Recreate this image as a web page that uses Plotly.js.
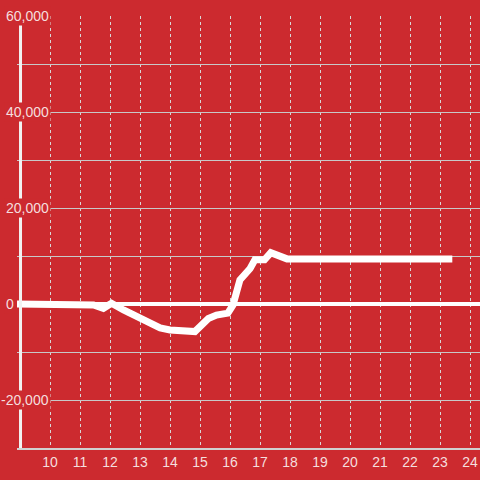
<!DOCTYPE html>
<html>
<head>
<meta charset="utf-8">
<script src="https://cdn.plot.ly/plotly-3.0.1.min.js"></script>
<style>html,body{margin:0;padding:0;background:#cc2a2f;}#chart{width:480px;height:480px;}</style>
</head>
<body>
<div id="chart"></div>
<script>
const xValues = [8.9, 11.3, 11.45, 11.78, 12.05, 12.45, 13.0, 13.67, 14.0, 14.67, 14.83, 15.28, 15.55, 15.93, 16.1, 16.33, 16.67, 16.83, 17.15, 17.36, 17.72, 17.9, 23.41];
const yValues = [0, 0, -200, -900, 150, -1250, -3000, -5000, -5400, -5550, -5750, -3000, -2300, -1900, -200, 5000, 7400, 9200, 9200, 10700, 9700, 9400, 9400];
const yTickValues = [60000, 40000, 20000, 0, -20000];
const xTickValues = [10, 11, 12, 13, 14, 15, 16, 17, 18, 19, 20, 21, 22, 23, 24];

const RED = '#cc2a2f';
const LABEL = '#f5dede';
const FONT = 'Liberation Sans, Arial, sans-serif';

const annotations = yTickValues.map(v => ({
  xref: 'paper', yref: 'y', x: -0.0287, y: v,
  xanchor: 'left', yanchor: 'middle',
  xshift: v < 0 ? -4.7 : 0,
  text: v.toLocaleString('en-US'),
  showarrow: false, bgcolor: RED, borderpad: 1,
  font: {family: FONT, size: 14, color: LABEL}
}));

const layout = {
  width: 480, height: 480,
  margin: {l: 17, r: 0, t: 16, b: 32},
  paper_bgcolor: RED, plot_bgcolor: RED,
  showlegend: false,
  font: {family: FONT, size: 14, color: LABEL},
  xaxis: {
    range: [8.9, 24.333], tickvals: xTickValues,
    showgrid: true, gridcolor: '#d8d8d8', griddash: 'dot', gridwidth: 1,
    zeroline: false, showline: true, linecolor: '#d0d0d0', linewidth: 2,
    ticks: '', tickfont: {family: FONT, size: 14, color: LABEL}
  },
  yaxis: {
    range: [-30000, 60000], dtick: 10000, showticklabels: false,
    showgrid: true, gridcolor: '#c8c8c8', gridwidth: 1,
    zeroline: true, zerolinecolor: '#ffffff', zerolinewidth: 4,
    showline: false, ticks: ''
  },
  shapes: [{
    type: 'line', xref: 'paper', yref: 'paper',
    x0: 0.0076, x1: 0.0076, y0: 0, y1: 1,
    line: {color: '#f2f2f2', width: 3}, layer: 'above'
  }],
  annotations: annotations
};

Plotly.newPlot('chart', [{
  x: xValues, y: yValues, type: 'scatter', mode: 'lines',
  line: {color: '#ffffff', width: 7}, hoverinfo: 'skip'
}], layout, {staticPlot: true, displayModeBar: false});
</script>
</body>
</html>
